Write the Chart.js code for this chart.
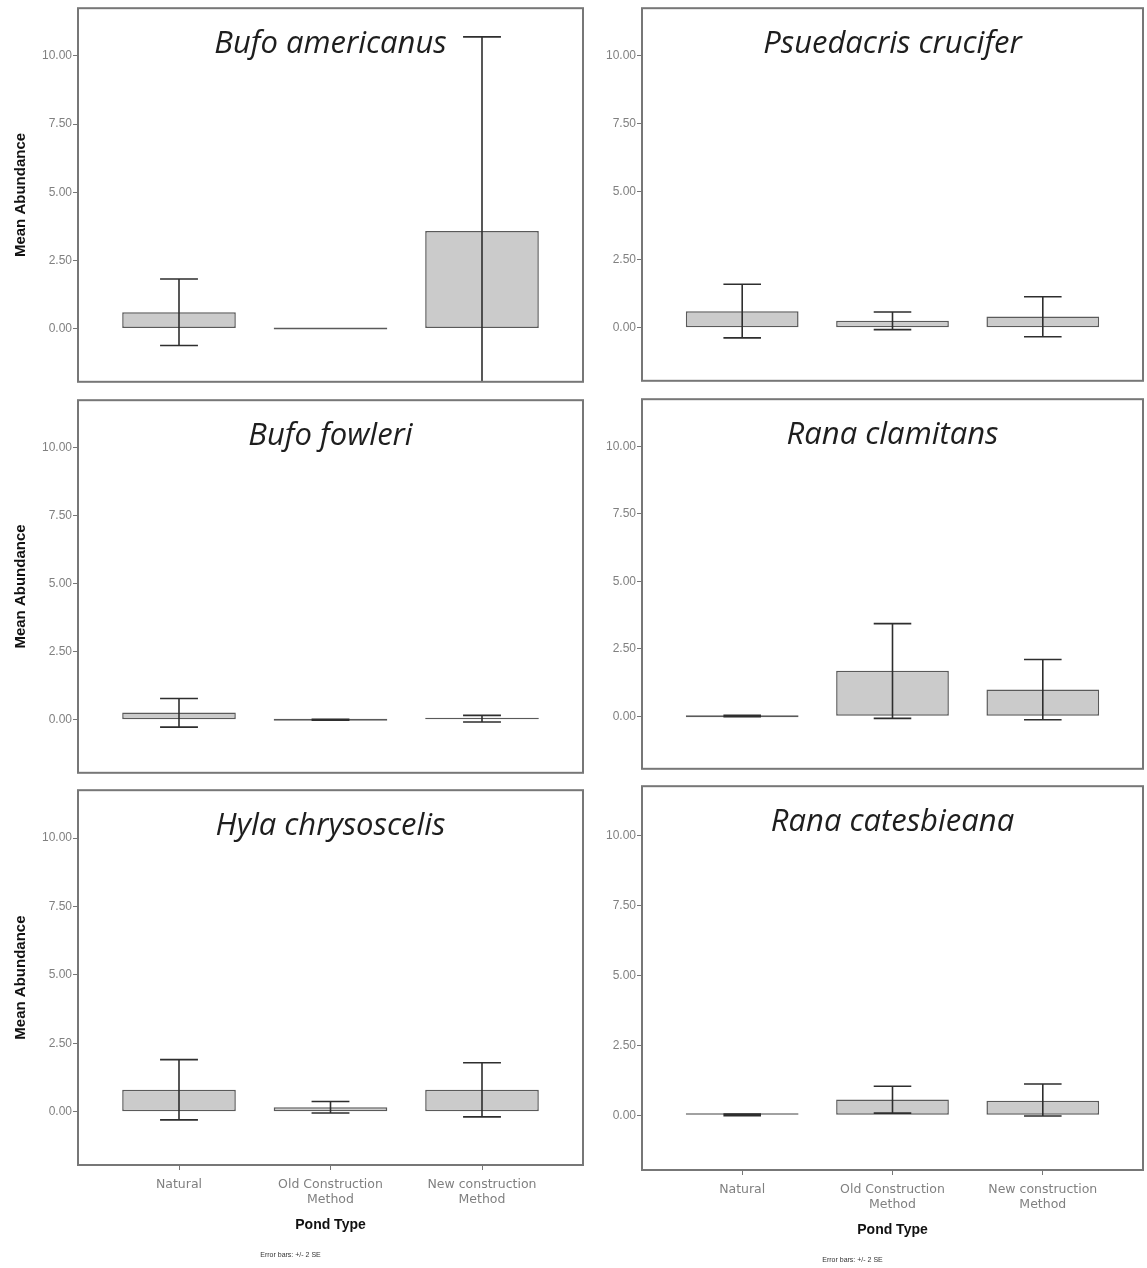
<!DOCTYPE html>
<html>
<head>
<meta charset="utf-8">
<script src="https://cdn.jsdelivr.net/npm/chart.js@4.4.0/dist/chart.umd.min.js"></script>
<style>
  html, body { margin: 0; padding: 0; background: #fff; }
  #figure { position: relative; width: 1147px; height: 1268px; overflow: hidden; }
  #figure canvas { position: absolute; }
</style>
</head>
<body>
<div id="figure"></div>
<script>
// x categories and y ticks
const pondTypes = [['Natural'], ['Old Construction', 'Method'], ['New construction', 'Method']];
const yTicks = [0, 2.5, 5, 7.5, 10];
const errorNote = 'Error bars: +/- 2 SE';

// mean abundance, lower and upper error bar ends (+/- 2 SE)
const bufoAmericanusMean = [0.6, 0, 3.58];
const bufoAmericanusLow = [-0.62, null, -3.5];
const bufoAmericanusHigh = [1.82, null, 10.7];

const psuedacrisMean = [0.61, 0.26, 0.41];
const psuedacrisLow = [-0.37, -0.07, -0.33];
const psuedacrisHigh = [1.6, 0.58, 1.14];

const bufoFowleriMean = [0.27, 0, 0.05];
const bufoFowleriLow = [-0.27, -0.02, -0.08];
const bufoFowleriHigh = [0.78, 0.02, 0.16];

const ranaClamitansMean = [0, 1.68, 0.99];
const ranaClamitansLow = [-0.02, -0.08, -0.13];
const ranaClamitansHigh = [0.03, 3.43, 2.1];

const hylaMean = [0.8, 0.16, 0.8];
const hylaLow = [-0.3, -0.05, -0.19];
const hylaHigh = [1.9, 0.37, 1.79];

const ranaCatesbieanaMean = [0.02, 0.57, 0.52];
const ranaCatesbieanaLow = [-0.01, 0.08, -0.02];
const ranaCatesbieanaHigh = [0.05, 1.04, 1.12];

const panels = [
	{ title: 'Bufo americanus', mean: bufoAmericanusMean, low: bufoAmericanusLow, high: bufoAmericanusHigh, col: 0, top: 0, boxTop: 8, boxBottom: 384, bottomAxis: false },
	{ title: 'Psuedacris crucifer', mean: psuedacrisMean, low: psuedacrisLow, high: psuedacrisHigh, col: 1, top: 0, boxTop: 8, boxBottom: 383, bottomAxis: false },
	{ title: 'Bufo fowleri', mean: bufoFowleriMean, low: bufoFowleriLow, high: bufoFowleriHigh, col: 0, top: 392, boxTop: 398, boxBottom: 775, bottomAxis: false },
	{ title: 'Rana clamitans', mean: ranaClamitansMean, low: ranaClamitansLow, high: ranaClamitansHigh, col: 1, top: 391, boxTop: 397, boxBottom: 771, bottomAxis: false },
	{ title: 'Hyla chrysoscelis', mean: hylaMean, low: hylaLow, high: hylaHigh, col: 0, top: 782, boxTop: 788, boxBottom: 1165, bottomAxis: true },
	{ title: 'Rana catesbieana', mean: ranaCatesbieanaMean, low: ranaCatesbieanaLow, high: ranaCatesbieanaHigh, col: 1, top: 778, boxTop: 784, boxBottom: 1170, bottomAxis: true },
];

const columns = [
	{ left: 0, width: 590, axisWidth: 78, padRight: 7, yTitle: true },
	{ left: 565, width: 582, axisWidth: 77, padRight: 4, yTitle: false },
];

const X_AXIS_H = 75;
const PAGE_H = 1268;

// error bars drawn on top of the bars
function errorBars(p) {
	return {
		id: 'errorBars',
		afterDatasetsDraw(chart) {
			const { ctx, chartArea: a, scales } = chart;
			const bars = chart.getDatasetMeta(0).data;
			ctx.save();
			ctx.beginPath();
			ctx.rect(a.left, a.top, a.width, a.height);
			ctx.clip();
			ctx.strokeStyle = '#2e2e2e';
			ctx.lineWidth = 1.6;
			p.low.forEach((lo, i) => {
				const hi = p.high[i];
				if (lo === null || hi === null) return;
				const px = scales.x.getPixelForValue(i);
				const cap = bars[i].width / 6;
				const yl = scales.y.getPixelForValue(lo);
				const yh = scales.y.getPixelForValue(hi);
				ctx.beginPath();
				ctx.moveTo(px, yl); ctx.lineTo(px, yh);
				ctx.moveTo(px - cap, yl); ctx.lineTo(px + cap, yl);
				ctx.moveTo(px - cap, yh); ctx.lineTo(px + cap, yh);
				ctx.stroke();
			});
			ctx.restore();
		}
	};
}

// panel frame, species name, error bar note
function panelDecor(p) {
	return {
		id: 'panelDecor',
		afterDraw(chart) {
			const { ctx, chartArea: a } = chart;
			const cx = (a.left + a.right) / 2;
			ctx.save();
			ctx.strokeStyle = '#777';
			ctx.lineWidth = 2;
			ctx.strokeRect(a.left, a.top, a.width, a.height);
			ctx.fillStyle = '#1e1e1e';
			ctx.font = 'italic 31px "Open Sans"';
			ctx.textAlign = 'center';
			ctx.textBaseline = 'middle';
			ctx.fillText(p.title, cx, a.top + 36);
			if (p.bottomAxis) {
				ctx.font = '7px "Liberation Sans"';
				ctx.fillStyle = '#333';
				ctx.fillText(errorNote, cx - 40, a.bottom + 90);
			}
			ctx.restore();
		}
	};
}

const figure = document.getElementById('figure');

panels.forEach(p => {
	const col = columns[p.col];
	const height = p.bottomAxis ? PAGE_H - p.top : p.boxBottom + 6 - p.top;
	const padBottom = p.bottomAxis ? PAGE_H - p.boxBottom - X_AXIS_H : 6;

	const canvas = document.createElement('canvas');
	canvas.width = col.width;
	canvas.height = height;
	canvas.style.left = col.left + 'px';
	canvas.style.top = p.top + 'px';
	figure.appendChild(canvas);

	new Chart(canvas.getContext('2d'), {
		type: 'bar',
		data: {
			datasets: [{
				data: p.mean.map((v, i) => ({ x: i, y: v })),
				backgroundColor: '#cbcbcb',
				borderColor: '#5a5a5a',
				borderWidth: 1.5,
				borderSkipped: false,
				minBarLength: 2,
				barPercentage: 0.75,
				categoryPercentage: 1,
			}],
		},
		options: {
			responsive: false,
			animation: false,
			layout: { padding: { left: 0, right: col.padRight, top: p.boxTop - p.top, bottom: padBottom } },
			plugins: {
				legend: { display: false },
				tooltip: { enabled: false },
			},
			scales: {
				x: {
					type: 'linear',
					display: p.bottomAxis,
					offset: false,
					min: -2 / 3,
					max: 8 / 3,
					afterBuildTicks: s => { s.ticks = pondTypes.map((_, i) => ({ value: i })); },
					afterFit: s => { s.height = p.bottomAxis ? X_AXIS_H : 0; },
					border: { display: false },
					grid: { offset: false, drawOnChartArea: false, drawTicks: true, tickLength: 5, color: '#777' },
					ticks: {
						callback: v => pondTypes[v],
						color: '#808080',
						font: { family: 'DejaVu Sans', size: 12.5, lineHeight: 1.2 },
						padding: 7,
						maxRotation: 0,
						autoSkip: false,
					},
					title: {
						display: true,
						text: 'Pond Type',
						color: '#111',
						font: { family: 'Liberation Sans', size: 14, weight: 'bold' },
						padding: { top: 0, bottom: 6 },
					},
				},
				y: {
					min: -1.95,
					max: 11.75,
					afterBuildTicks: s => { s.ticks = yTicks.map(v => ({ value: v })); },
					afterFit: s => { s.width = col.axisWidth; },
					border: { display: false },
					grid: { drawOnChartArea: false, drawTicks: true, tickLength: 5, color: '#777' },
					ticks: {
						callback: v => v.toFixed(2),
						color: '#808080',
						font: { family: 'Liberation Sans', size: 12 },
						padding: 1,
					},
					title: {
						display: col.yTitle,
						text: 'Mean Abundance',
						color: '#111',
						font: { family: 'Liberation Sans', size: 15, weight: 'bold' },
						padding: { top: 12, bottom: 0 },
					},
				},
			},
		},
		plugins: [errorBars(p), panelDecor(p)],
	});
});
</script>
</body>
</html>
